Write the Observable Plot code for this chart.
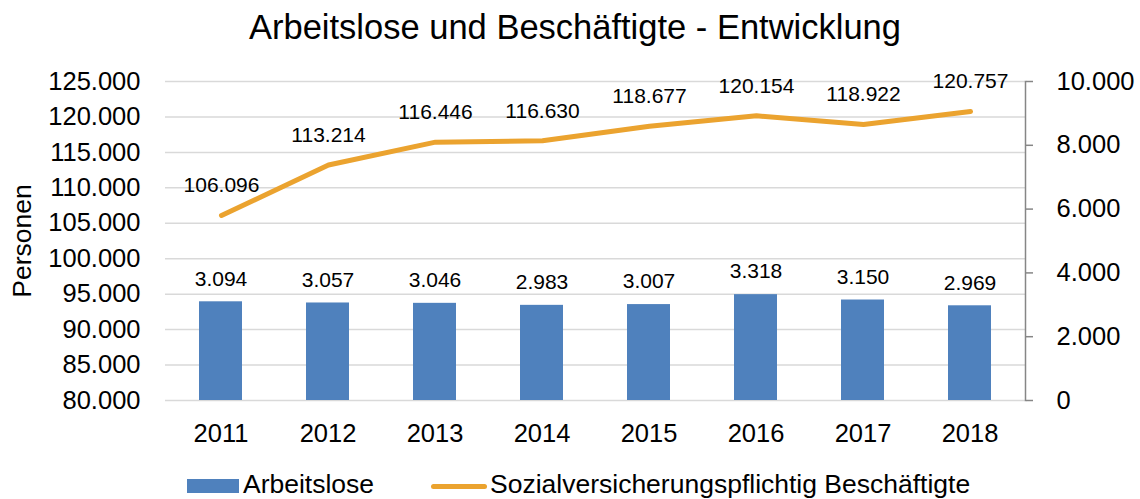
<!DOCTYPE html>
<html>
<head>
<meta charset="utf-8">
<script src="https://cdn.jsdelivr.net/npm/d3@7"></script>
<script src="https://cdn.jsdelivr.net/npm/@observablehq/plot@0.6"></script>
<style>
  html, body { margin: 0; padding: 0; background: #fff; }
  body { width: 1140px; height: 499px; overflow: hidden; font-family: "Liberation Sans", Arial, sans-serif; color: #000; }
  #title { height: 55px; line-height: 55px; text-align: center; font-size: 34.5px; padding-left: 10px; white-space: nowrap; }
  #chart { position: relative; width: 1140px; height: 405px; }
  #chart svg { position: absolute; left: 0; top: 0; }
  #legend { position: relative; width: 1140px; height: 39px; }
  #legend .sw { position: absolute; }
  #legend .lt { position: absolute; top: 10px; line-height: 28px; font-size: 26.5px; white-space: nowrap; }
</style>
</head>
<body>
<div id="title">Arbeitslose und Beschäftigte - Entwicklung</div>
<div id="chart"></div>
<div id="legend">
  <div class="sw" style="left:187px;top:19px;width:52px;height:14px;background:#4F81BD"></div>
  <div class="lt" style="left:243px">Arbeitslose</div>
  <div class="sw" style="left:431px;top:23.5px;width:56px;height:5px;border-radius:2.5px;background:#EBA32F"></div>
  <div class="lt" style="left:490px">Sozialversicherungspflichtig Beschäftigte</div>
</div>
<script>
const years = [2011, 2012, 2013, 2014, 2015, 2016, 2017, 2018];
const beschaeftigte = [106096, 113214, 116446, 116630, 118677, 120154, 118922, 120757];
const arbeitslose = [3094, 3057, 3046, 2983, 3007, 3318, 3150, 2969];
const leftTicks = [80000, 85000, 90000, 95000, 100000, 105000, 110000, 115000, 120000, 125000];
const rightTicks = [0, 2000, 4000, 6000, 8000, 10000];

const data = years.map((y, i) => ({year: y, b: beschaeftigte[i], a: arbeitslose[i]}));
const fmt = d3.formatLocale({decimal: ",", thousands: ".", grouping: [3], currency: ["", "€"]}).format(",d");

const common = {
  width: 1140, height: 405,
  marginLeft: 165, marginRight: 115, marginTop: 26, marginBottom: 60,
  style: {background: "transparent", fontFamily: "'Liberation Sans', Arial, sans-serif", color: "#000", overflow: "visible"}
};

const lineChart = Plot.plot({
  ...common,
  x: {type: "point", domain: years, padding: 0.5, axis: null},
  y: {domain: [80000, 125000]},
  marks: [
    Plot.ruleY(leftTicks, {stroke: "#d9d9d9", strokeWidth: 1.5}),
    Plot.axisY(leftTicks, {anchor: "left", tickSize: 0, tickPadding: 25, tickFormat: fmt, fontSize: 25.5, fill: "#000", label: null}),
    Plot.lineY(data, {x: "year", y: "b", stroke: "#EBA32F", strokeWidth: 5, strokeLinecap: "round", strokeLinejoin: "round"}),
    Plot.text(data, {x: "year", y: "b", text: d => fmt(d.b), dy: -30, fontSize: 21, fill: "#000"}),
    Plot.text(["Personen"], {text: d => d, frameAnchor: "left", textAnchor: "middle", dx: -143, rotate: -90, fontSize: 26.5, fill: "#000"})
  ]
});

const barChart = Plot.plot({
  ...common,
  x: {type: "band", domain: years, paddingInner: 0.6, paddingOuter: 0.3},
  y: {domain: [0, 10000]},
  marks: [
    Plot.barY(data, {x: "year", y: "a", fill: "#4F81BD"}),
    Plot.text(data, {x: "year", y: "a", text: d => fmt(d.a), dy: -23, fontSize: 21, fill: "#000"}),
    Plot.frame({anchor: "right", stroke: "#868686", strokeWidth: 1.5}),
    Plot.axisY(rightTicks, {anchor: "right", tickSize: 7, tickPadding: 24, tickFormat: fmt, fontSize: 25.5, stroke: "#868686", fill: "#000", strokeWidth: 1.5, label: null}),
    Plot.axisX(years, {anchor: "bottom", tickSize: 0, tickPadding: 23, fontSize: 25.5, fill: "#000", label: null, tickFormat: d => String(d)})
  ]
});

const chart = document.getElementById("chart");
chart.appendChild(lineChart);
chart.appendChild(barChart);
</script>
</body>
</html>
